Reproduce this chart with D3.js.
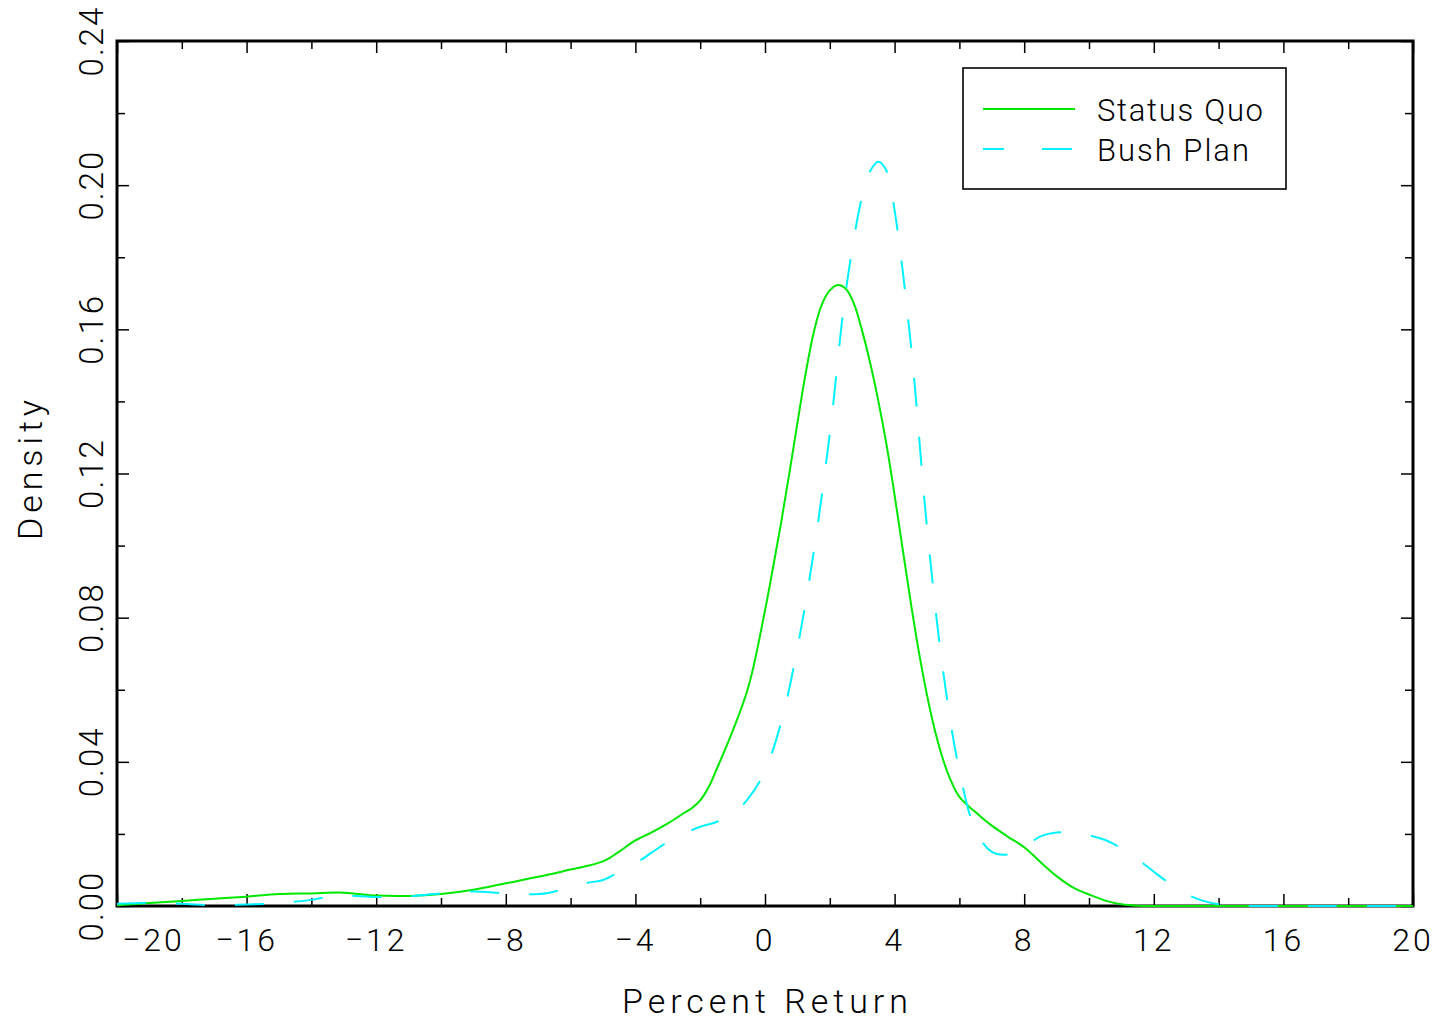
<!DOCTYPE html>
<html>
<head>
<meta charset="utf-8">
<script src="https://cdn.jsdelivr.net/npm/d3@7"></script>
<style>
  html, body { margin: 0; padding: 0; background: #ffffff; }
  svg { display: block; }
  text { font-family: Roboto, "DejaVu Sans", sans-serif; font-weight: 300; fill: #000; }
</style>
</head>
<body>
<svg id="chart" width="1441" height="1024"></svg>
<script>
// Kernel density estimates of percent return, two scenarios
const statusQuoX = [-20,-19,-18,-17,-16,-15,-14,-13,-12,-11,-10,-9,-8,-7,-6,-5.5,-5,-4.75,-4.5,-4,-3.5,-3,-2.5,-2.25,-2,-1.75,-1.5,-1,-0.5,0,0.25,0.5,0.75,1,1.25,1.5,1.75,2,2.25,2.5,2.75,3,3.25,3.5,3.75,4,4.25,4.5,4.75,5,5.25,5.5,5.75,6,6.5,7,7.5,8,8.5,9,9.5,10,10.5,11,11.5,12,14,16,18,20];
const statusQuoDensity = [0.0002,0.0008,0.0014,0.0020,0.0026,0.0033,0.0035,0.0037,0.0029,0.0028,0.0033,0.0045,0.0063,0.0081,0.0101,0.0111,0.0124,0.0136,0.0151,0.0182,0.0204,0.0229,0.0258,0.0272,0.0293,0.0328,0.0378,0.0485,0.0612,0.0820,0.0940,0.1065,0.1200,0.1340,0.1475,0.1590,0.1668,0.1708,0.1723,0.1712,0.1670,0.1595,0.1505,0.1400,0.1280,0.1140,0.0990,0.0842,0.0705,0.0585,0.0485,0.0405,0.0345,0.0303,0.0260,0.0223,0.0192,0.0163,0.0122,0.0083,0.0052,0.0032,0.0015,0.0005,0.0001,0,0,0,0,0];

const bushPlanX = [-20,-19,-18,-17,-16,-15,-14,-13.5,-13,-12,-11,-10,-9,-8,-7,-6.5,-6,-5.5,-5,-4.5,-4,-3.5,-3,-2.5,-2,-1.5,-1,-0.5,0,0.5,1,1.5,2,2.5,3,3.25,3.5,3.75,4,4.5,5,5.5,6,6.5,7,7.5,8,8.5,9,9.5,10,10.5,11,11.5,12,12.5,13,13.5,14,14.5,15,17,20];
const bushPlanDensity = [0.0006,0.0009,0.0006,0.0002,0.0004,0.0008,0.0017,0.0025,0.0029,0.0025,0.0027,0.0035,0.0040,0.0035,0.0033,0.0040,0.0052,0.0064,0.0072,0.0094,0.0118,0.0148,0.0178,0.0200,0.0220,0.0233,0.0255,0.0300,0.0375,0.0510,0.0715,0.0980,0.1310,0.1710,0.1970,0.2040,0.2065,0.2040,0.1930,0.1560,0.1050,0.0650,0.0375,0.0210,0.0150,0.0143,0.0163,0.0193,0.0204,0.0201,0.0196,0.0183,0.0160,0.0130,0.0095,0.0062,0.0033,0.0015,0.0005,0.0001,0,0,0];

const seriesNames = ["Status Quo", "Bush Plan"];

const xMajorTicks = [-20,-16,-12,-8,-4,0,4,8,12,16,20];
const xMinorTicks = [-18,-14,-10,-6,-2,2,6,10,14,18];
const yMajorTicks = [0,0.04,0.08,0.12,0.16,0.20,0.24];
const yMinorTicks = [0.02,0.06,0.10,0.14,0.18,0.22];

const xTitle = "Percent Return";
const yTitle = "Density";

const svg = d3.select("#chart");
const plotLeft = 117, plotRight = 1413, plotTop = 41, plotBottom = 906;

const x = d3.scaleLinear().domain([-20, 20]).range([plotLeft, plotRight]);
const y = d3.scaleLinear().domain([0, 0.24]).range([plotBottom, plotTop]);

// frame
svg.append("rect")
  .attr("x", plotLeft).attr("y", plotTop)
  .attr("width", plotRight - plotLeft).attr("height", plotBottom - plotTop)
  .attr("fill", "none").attr("stroke", "#000").attr("stroke-width", 3);

// inward ticks on all four sides
function tickGroup(axisFn, scale, values, size, transform) {
  const g = svg.append("g").attr("transform", transform)
    .call(axisFn(scale).tickValues(values).tickSize(size).tickFormat(""));
  g.select(".domain").remove();
  g.selectAll(".tick line").attr("stroke", "#000").attr("stroke-width", 1.5);
  return g;
}
tickGroup(d3.axisBottom, x, xMajorTicks, -12, `translate(0,${plotBottom})`);
tickGroup(d3.axisBottom, x, xMinorTicks, -8, `translate(0,${plotBottom})`);
tickGroup(d3.axisTop, x, xMajorTicks, -12, `translate(0,${plotTop})`);
tickGroup(d3.axisTop, x, xMinorTicks, -8, `translate(0,${plotTop})`);
tickGroup(d3.axisLeft, y, yMajorTicks, -12, `translate(${plotLeft},0)`);
tickGroup(d3.axisLeft, y, yMinorTicks, -8, `translate(${plotLeft},0)`);
tickGroup(d3.axisRight, y, yMajorTicks, -12, `translate(${plotRight},0)`);
tickGroup(d3.axisRight, y, yMinorTicks, -8, `translate(${plotRight},0)`);

// x tick labels
const fmtX = d3.format("d");
svg.append("g").selectAll("text").data(xMajorTicks).join("text")
  .attr("x", (d, i) => i === 0 ? x(d) + 5 : x(d))
  .attr("y", 951)
  .attr("text-anchor", (d, i) => i === 0 ? "start" : "middle")
  .style("font-size", "32px")
  .style("letter-spacing", "3px")
  .text(d => fmtX(d));

// y tick labels, rotated
const fmtY = d3.format(".2f");
svg.append("g").selectAll("text").data(yMajorTicks).join("text")
  .attr("transform", d => `translate(103,${y(d)}) rotate(-90)`)
  .attr("text-anchor", "middle")
  .style("font-size", "33px")
  .style("letter-spacing", "2px")
  .text(d => fmtY(d));

// axis titles
svg.append("text")
  .attr("x", 622).attr("y", 1013)
  .attr("textLength", 286).attr("lengthAdjust", "spacing")
  .style("font-size", "34px")
  .text(xTitle);

svg.append("text")
  .attr("transform", "translate(42,540) rotate(-90)")
  .attr("textLength", 140).attr("lengthAdjust", "spacing")
  .style("font-size", "34px")
  .text(yTitle);

// density curves
const line = d3.line()
  .x(d => x(d[0]))
  .y(d => y(d[1]))
  .curve(d3.curveCatmullRom.alpha(0.5));

const statusQuo = statusQuoX.map((v, i) => [v, statusQuoDensity[i]]);
const bushPlan = bushPlanX.map((v, i) => [v, bushPlanDensity[i]]);

const green = "#00e800", cyan = "#00f2ff";

svg.append("path").datum(statusQuo)
  .attr("d", line)
  .attr("fill", "none").attr("stroke", green).attr("stroke-width", 2);

svg.append("path").datum(bushPlan)
  .attr("d", line)
  .attr("fill", "none").attr("stroke", cyan).attr("stroke-width", 2)
  .attr("stroke-dasharray", "29,30");

// legend
const legend = svg.append("g");
legend.append("rect")
  .attr("x", 963).attr("y", 68).attr("width", 323).attr("height", 121)
  .attr("fill", "#fff").attr("stroke", "#000").attr("stroke-width", 1.6);

legend.append("line")
  .attr("x1", 983).attr("x2", 1075).attr("y1", 109).attr("y2", 109)
  .attr("stroke", green).attr("stroke-width", 2);
legend.append("line")
  .attr("x1", 983).attr("x2", 1075).attr("y1", 149).attr("y2", 149)
  .attr("stroke", cyan).attr("stroke-width", 2)
  .attr("stroke-dasharray", "21,38,30,100");

legend.append("text")
  .attr("x", 1097).attr("y", 121)
  .attr("textLength", 166).attr("lengthAdjust", "spacing")
  .style("font-size", "31px")
  .text(seriesNames[0]);
legend.append("text")
  .attr("x", 1097).attr("y", 161)
  .attr("textLength", 152).attr("lengthAdjust", "spacing")
  .style("font-size", "31px")
  .text(seriesNames[1]);
</script>
</body>
</html>
